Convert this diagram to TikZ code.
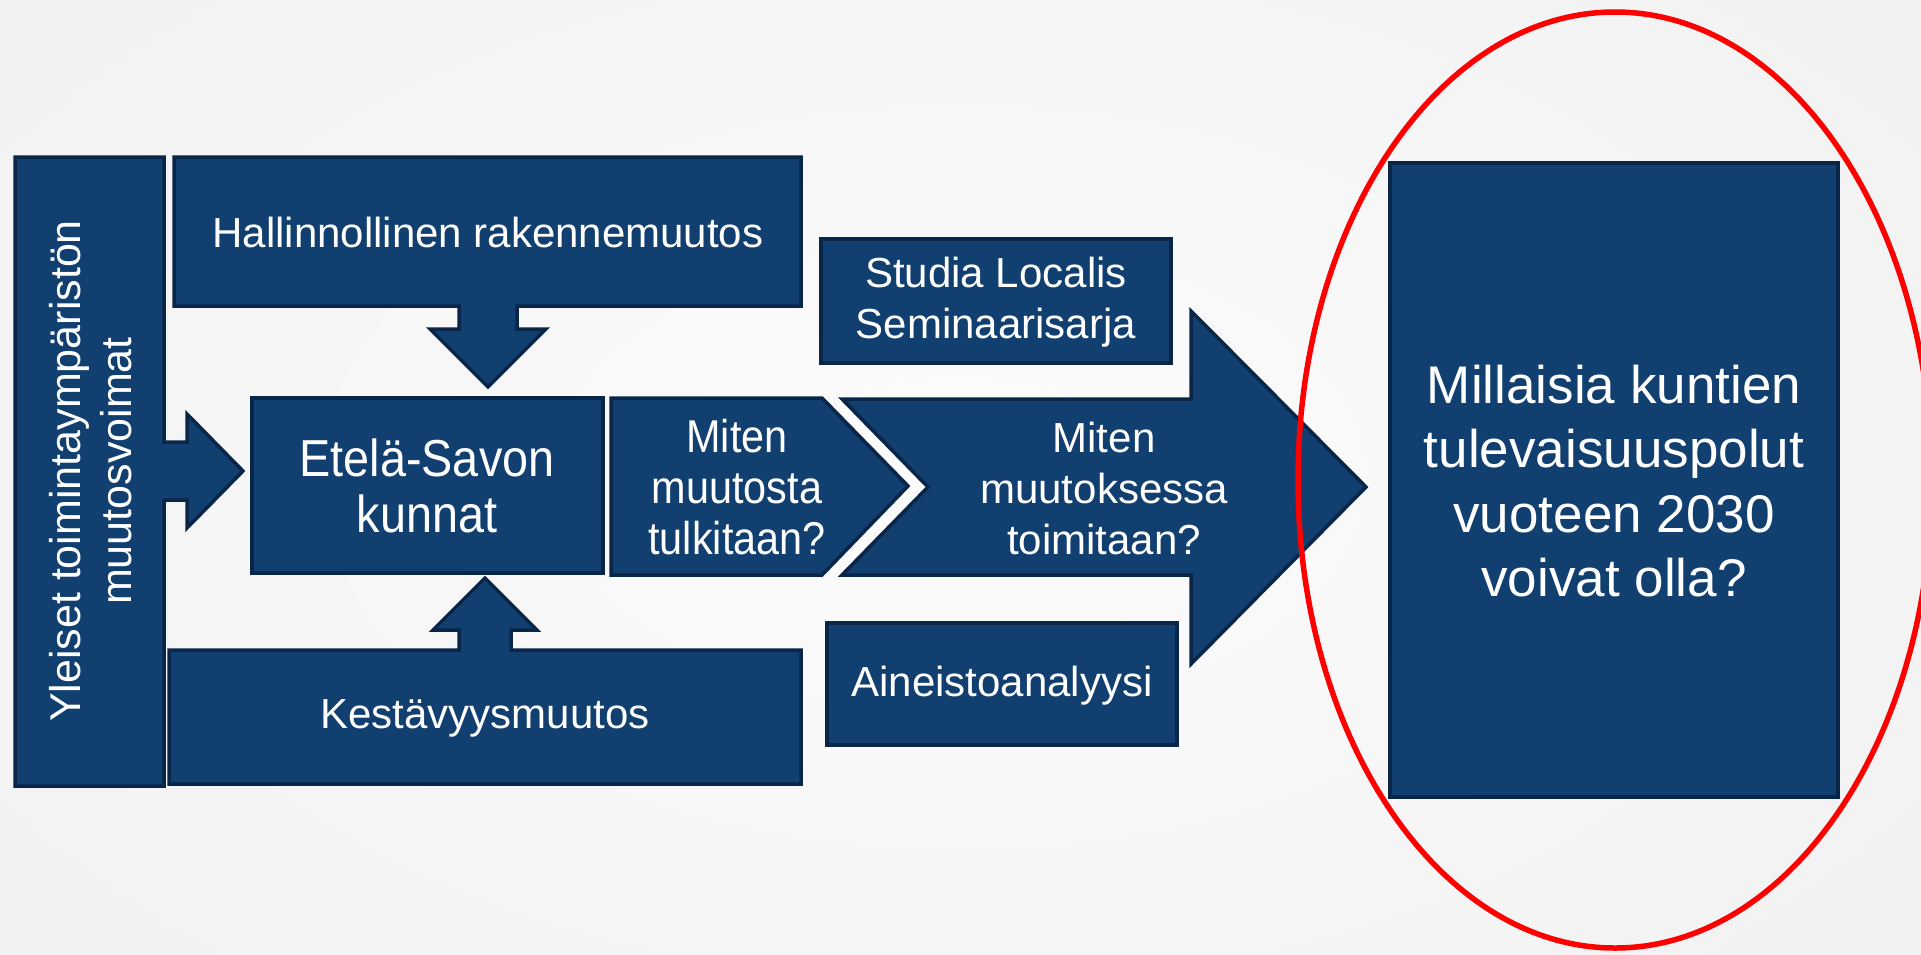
\documentclass[tikz,border=0pt]{standalone}
\usepackage{fontspec}
\setmainfont{Liberation Sans}
\newfontfamily\narrowfont[FakeStretch=0.9]{Liberation Sans}
\definecolor{boxblue}{RGB}{17,63,112}
\definecolor{boxedge}{RGB}{9,38,72}
\definecolor{bgin}{RGB}{252,252,252}
\definecolor{bgout}{RGB}{242,242,242}
\definecolor{ringred}{RGB}{255,0,0}
\tikzset{
  blockshape/.style={fill=boxblue, draw=boxedge, line width=3.5pt, line join=miter},
  txt/.style={text=white, align=center, inner sep=0pt, font=\fontsize{42}{51}\selectfont},
  narrowtxt/.style={txt, font=\narrowfont\fontsize{46}{51}\selectfont},
}
\begin{document}
\begin{tikzpicture}[x=1pt, y=-1pt]
\useasboundingbox (0,0) rectangle (1921,954);
\clip (0,0) rectangle (1921,954);
\shade[inner color=bgin, outer color=bgout] (-200,-200) rectangle (2121,1154);

% left tall box with arrow
\draw[blockshape] (15,157) -- (164,157) -- (164,442) -- (187,442) -- (187,414)
  -- (243,471) -- (187,528) -- (187,500) -- (164,500) -- (164,786) -- (15,786) -- cycle;
% Hallinnollinen with down arrow
\draw[blockshape] (174,157) -- (801,157) -- (801,306) -- (517,306) -- (517,329)
  -- (546,329) -- (488,387) -- (430,329) -- (459,329) -- (459,306) -- (174,306) -- cycle;
% Kestavyys with up arrow
\draw[blockshape] (169,650) -- (459,650) -- (459,630) -- (433,630) -- (485,578)
  -- (537,630) -- (511,630) -- (511,650) -- (801,650) -- (801,784) -- (169,784) -- cycle;
% Etela-Savon box
\draw[blockshape] (252,398) rectangle (603,573);
% pentagon
\draw[blockshape] (611,398) -- (822,398) -- (908,486) -- (822,575) -- (611,575) -- cycle;
% big chevron arrow
\draw[blockshape] (842,399) -- (1191,399) -- (1191,311) -- (1366,487) -- (1191,664)
  -- (1191,575) -- (842,575) -- (928,487) -- cycle;
% Studia box
\draw[blockshape] (821,239) rectangle (1171,363);
% Aineisto box
\draw[blockshape] (827,623) rectangle (1177,745);
% big square
\draw[blockshape] (1390,163) rectangle (1838,797);
% red ellipse
\draw[ringred, line width=5.5pt] (1615,480) ellipse [x radius=317, y radius=468];

% texts
\node[txt, rotate=90, font=\fontsize{43}{51}\selectfont] (yleiset) at (91,471) {Yleiset toimintaympäristön\\muutosvoimat};
\node[txt] (hallinto) at (488,232) {Hallinnollinen rakennemuutos};
\node[txt] (kesta) at (485,718) {Kestävyysmuutos};
\node[txt, font=\narrowfont\fontsize{52}{56}\selectfont] (etela) at (427,486) {Etelä-Savon\\kunnat};
\node[narrowtxt] (tulkitaan) at (737,487) {Miten\\muutosta\\tulkitaan?};
\node[txt] (toimitaan) at (1104,488) {Miten\\muutoksessa\\toimitaan?};
\node[txt] (studia) at (996,302) {Studia Localis\\Seminaarisarja};
\node[txt] (aineisto) at (1002,686) {Aineistoanalyysi};
\node[txt, font=\fontsize{53}{64.5}\selectfont] (millaisia) at (1614,481) {Millaisia kuntien\\tulevaisuuspolut\\vuoteen 2030\\voivat olla?};
\end{tikzpicture}
\end{document}
